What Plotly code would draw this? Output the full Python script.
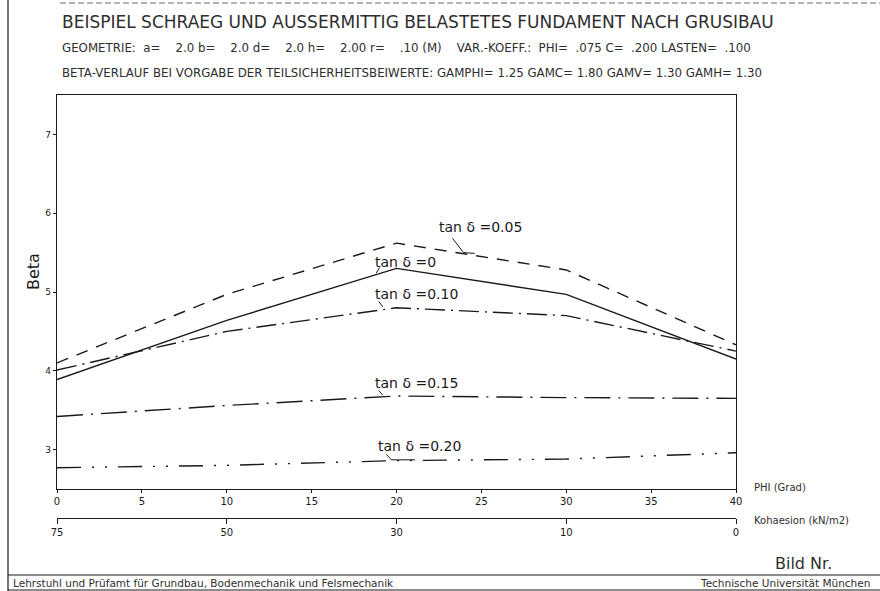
import plotly.graph_objects as go

# Reibungswinkel PHI (Grad) and the matching cohesion values (kN/m2)
phi = [0, 10, 20, 30, 40]
kohaesion_ticks = ["75", "50", "30", "10", "0"]
phi_ticks = [0, 5, 10, 15, 20, 25, 30, 35, 40]
beta_ticks = [3, 4, 5, 6, 7]

# Beta for each load inclination tan(delta)
beta_tan000 = [3.89, 4.64, 5.30, 4.97, 4.15]
beta_tan005 = [4.10, 4.97, 5.62, 5.28, 4.33]
beta_tan010 = [4.01, 4.50, 4.80, 4.70, 4.25]
beta_tan015 = [3.42, 3.56, 3.68, 3.66, 3.65]
beta_tan020 = [2.77, 2.80, 2.86, 2.88, 2.96]

curve_labels = ["tan δ =0", "tan δ =0.05", "tan δ =0.10", "tan δ =0.15", "tan δ =0.20"]

W, H = 880, 591
ML, MR, MT, MB = 57, 144, 95, 73
PW, PH = W - ML - MR, H - MT - MB


def px(x):
    return (x - ML) / PW


def py(y):
    return (H - MB - y) / PH


FONT = "DejaVu Sans"
INK = "#1a1a1a"
SOFT = "#2e2e2e"

fig = go.Figure()

series = [
    (beta_tan000, "solid"),
    (beta_tan005, "12px,9px"),
    (beta_tan010, "20px,6px,2px,6px"),
    (beta_tan015, "26px,8px,2px,8px"),
    (beta_tan020, "24px,11px,2px,11px,2px,11px"),
]
for (vals, dash), name in zip(series, curve_labels):
    fig.add_trace(go.Scatter(x=phi, y=vals, mode="lines", name=name,
                             line=dict(color=INK, width=1.4, dash=dash),
                             showlegend=False, hoverinfo="skip"))

# curve labels (data coordinates) and their small leader strokes
label_pos = [
    (18.6, 5.38, [(19.0, 5.31), (18.8, 5.24)]),
    (22.4, 5.83, [(23.3, 5.68), (23.95, 5.50), (24.6, 5.49)]),
    (18.6, 4.98, [(18.95, 4.88), (19.2, 4.81)]),
    (18.6, 3.85, [(18.95, 3.75), (19.2, 3.69)]),
    (18.8, 3.04, [(19.4, 2.94), (19.7, 2.87), (21.1, 2.87)]),
]
for text, (lx, ly, leader) in zip(curve_labels, label_pos):
    fig.add_annotation(x=lx, y=ly, text=text, showarrow=False, xanchor="left",
                       yanchor="middle", font=dict(family=FONT, size=14, color=INK))
    fig.add_trace(go.Scatter(x=[p[0] for p in leader], y=[p[1] for p in leader],
                             mode="lines", line=dict(color=INK, width=1),
                             showlegend=False, hoverinfo="skip"))

axis_font = dict(family=FONT, size=10, color=INK)
fig.update_layout(
    width=W, height=H,
    margin=dict(l=ML, r=MR, t=MT, b=MB),
    paper_bgcolor="white", plot_bgcolor="white",
    xaxis=dict(range=[0, 40], tickvals=phi_ticks, ticks="outside", ticklen=3,
               tickcolor=INK, showline=True, linecolor=INK, linewidth=1.3,
               mirror=True, showgrid=False, zeroline=False, tickfont=axis_font,
               anchor="y"),
    xaxis2=dict(range=[0, 40], tickvals=phi, ticktext=kohaesion_ticks,
                overlaying="x", anchor="free", position=0, side="bottom",
                ticks="outside", ticklen=5, tickcolor=INK, showline=True,
                linecolor=INK, linewidth=1.3, showgrid=False, zeroline=False,
                tickfont=axis_font),
    yaxis=dict(range=[2.5, 7.5], tickvals=beta_ticks, ticks="outside", ticklen=3,
               tickcolor=INK, showline=True, linecolor=INK, linewidth=1.3,
               mirror=True, showgrid=False, zeroline=False,
               tickfont=dict(family=FONT, size=9, color=INK),
               domain=[py(489), 1]),
)
# a hidden trace binds the cohesion axis
fig.add_trace(go.Scatter(x=phi, y=[None] * len(phi), xaxis="x2", yaxis="y",
                         showlegend=False, hoverinfo="skip"))

NB = "\u00a0"
texts = [
    (60, 22, "BEISPIEL SCHRAEG UND AUSSERMITTIG BELASTETES FUNDAMENT NACH GRUSIBAU", 17),
    (60, 48, f"GEOMETRIE:{NB*2}a={NB*4}2.0 b={NB*4}2.0 d={NB*4}2.0 h={NB*4}2.00 r={NB*4}.10 (M){NB*4}"
             f"VAR.-KOEFF.:{NB*2}PHI={NB*2}.075 C={NB*2}.200 LASTEN={NB*2}.100", 11.8),
    (60, 73, "BETA-VERLAUF BEI VORGABE DER TEILSICHERHEITSBEIWERTE: GAMPHI= 1.25 GAMC= 1.80 GAMV= 1.30 GAMH= 1.30", 11.8),
    (752, 487, "PHI (Grad)", 10),
    (752, 520, "Kohaesion (kN/m2)", 10),
    (773, 563, "Bild Nr.", 16),
    (11, 583, "Lehrstuhl und Prüfamt für Grundbau, Bodenmechanik und Felsmechanik", 10.5),
    (698, 583, "Technische Universität München", 10.5),
]
for x, y, t, s in texts:
    fig.add_annotation(x=px(x), y=py(y), xref="paper", yref="paper", text=t,
                       showarrow=False, xanchor="left", yanchor="middle",
                       font=dict(family=FONT, size=s, color=SOFT))

fig.add_annotation(x=px(33), y=py(272), xref="paper", yref="paper", text="Beta",
                   textangle=-90, showarrow=False, xanchor="center", yanchor="middle",
                   font=dict(family=FONT, size=16, color=INK))

# page frame and title block
frame = dict(color=INK, width=1.2)
fig.add_shape(type="line", xref="paper", yref="paper", x0=px(8), x1=px(8), y0=py(0), y1=py(591), line=frame)
fig.add_shape(type="line", xref="paper", yref="paper", x0=px(60), x1=px(880), y0=py(3), y1=py(3),
              line=dict(color="#666", width=1, dash="6px,3px"))
fig.add_shape(type="line", xref="paper", yref="paper", x0=px(8), x1=px(880), y0=py(575), y1=py(575), line=frame)
fig.add_shape(type="line", xref="paper", yref="paper", x0=px(8), x1=px(880), y0=py(590), y1=py(590), line=frame)

fig.write_html("out.html")
